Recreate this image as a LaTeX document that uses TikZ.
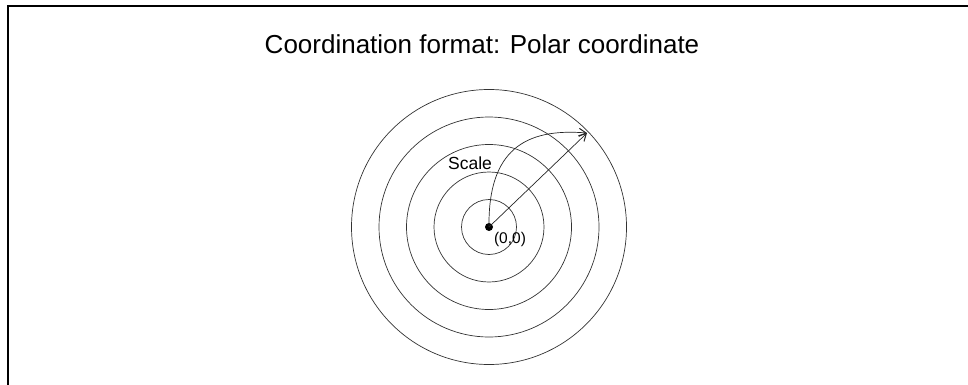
\documentclass[tikz,border=0pt]{standalone}
\usepackage{fontspec}
\setmainfont{Liberation Sans}
\usetikzlibrary{arrows.meta}
\begin{document}
\begin{tikzpicture}[x=1pt,y=-1pt,
  ring/.style={draw=black!80,line width=0.7pt},
  conn/.style={draw=black!85,line width=0.7pt,-{Straight Barb[length=7pt,width=8pt,line width=1pt]}},
  lbl/.style={inner sep=0pt,font=\fontsize{17.5}{17.5}\selectfont}]
\useasboundingbox (0,0) rectangle (968,385);
\draw[line width=2pt] (8,385) -- (8,6) -- (968,6);
\node[inner sep=0pt,font=\fontsize{26}{26}\selectfont] (title) at (482,44) {Coordination format: Polar coordinate};
\coordinate (o) at (489,227);
\foreach \r/\n in {27.5/c1,55/c2,82.5/c3,110/c4,137.5/c5}
  \draw[ring] (o) circle[radius=\r];
\fill (o) circle[radius=4];
\coordinate (tip) at (587,133);
\draw[conn] (o) -- (tip);
\draw[conn] (o) .. controls (488,150) and (525,128) .. (tip);
\node[lbl] (scale) at (470,163) {Scale};
\node[lbl,font=\fontsize{15.5}{15.5}\selectfont] (origin) at (510,239) {(0,0)};
\end{tikzpicture}
\end{document}
